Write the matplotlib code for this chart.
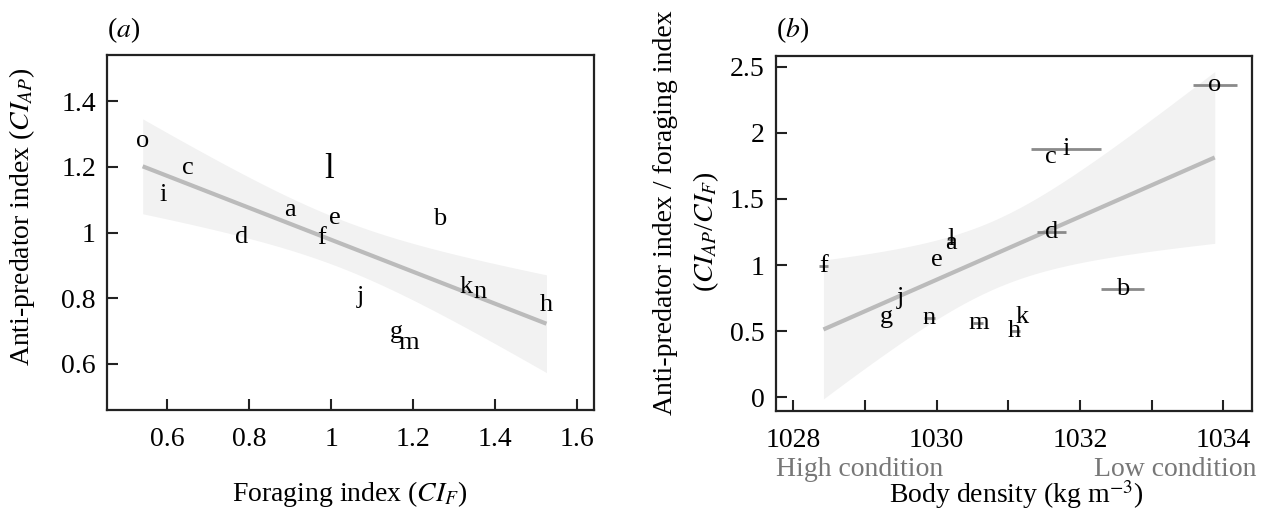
import numpy as np
import matplotlib
matplotlib.use("Agg")
import matplotlib.pyplot as plt
from matplotlib.ticker import FixedLocator

plt.rcParams['font.family'] = ['Liberation Serif', 'DejaVu Serif']
plt.rcParams['mathtext.fontset'] = 'stix'

# ---------------- data ----------------
labels = ['a', 'b', 'c', 'd', 'e', 'f', 'g', 'h', 'i', 'j', 'k', 'l', 'm', 'n', 'o']

# panel (a): foraging index vs anti-predator index
ci_f = [0.899, 1.265, 0.651, 0.782, 1.009, 0.977, 1.158, 1.525, 0.589, 1.072, 1.330, 0.995, 1.188, 1.363, 0.540]
ci_ap = [1.068, 1.040, 1.195, 0.987, 1.043, 0.982, 0.698, 0.779, 1.114, 0.804, 0.835, 1.192, 0.664, 0.820, 1.278]

# panel (b): body density vs ratio
density = [1030.20, 1032.60, 1031.60, 1031.60, 1030.00, 1028.42, 1029.30, 1031.09, 1031.80, 1029.49, 1031.19, 1030.20, 1030.58, 1029.90, 1033.88]
density_err = [0.06, 0.30, 0.00, 0.20, 0.00, 0.06, 0.00, 0.07, 0.49, 0.00, 0.00, 0.06, 0.07, 0.07, 0.31]
ratio = [1.17, 0.82, 1.82, 1.25, 1.04, 0.99, 0.61, 0.50, 1.88, 0.75, 0.61, 1.20, 0.56, 0.60, 2.36]

W, H = 1270, 518
fig = plt.figure(figsize=(W / 100, H / 100), dpi=100)

def px_axes(l, t, r, b):
    return fig.add_axes([l / W, 1 - b / H, (r - l) / W, (b - t) / H])

def ols_band(x, y, grid):
    x = np.asarray(x, float); y = np.asarray(y, float)
    n = len(x)
    slope, inter = np.polyfit(x, y, 1)
    res = y - (inter + slope * x)
    s = np.sqrt(np.sum(res ** 2) / (n - 2))
    sxx = np.sum((x - x.mean()) ** 2)
    t = 2.160  # t(0.975, 13)
    fit = inter + slope * grid
    hw = t * s * np.sqrt(1 / n + (grid - x.mean()) ** 2 / sxx)
    return fit, fit - hw, fit + hw

band_col = '#f2f2f2'
line_col = '#bbbbbb'
txt_fs = 19
lab_fs = 20

def style_axes(ax):
    for sp in ax.spines.values():
        sp.set_linewidth(1.6)
        sp.set_color('#222222')
    ax.tick_params(which='both', direction='in', length=8, width=1.5, labelsize=lab_fs, color='#222222')
    ax.tick_params(axis='x', which='both', pad=12)
    ax.tick_params(axis='y', pad=8)

# ---------------- panel (a) ----------------
axa = px_axes(107, 55, 594, 410)
ga = np.linspace(min(ci_f), max(ci_f), 200)
fa, loa, hia = ols_band(ci_f, ci_ap, ga)
axa.fill_between(ga, loa, hia, color=band_col, lw=0, zorder=0)
axa.plot(ga, fa, color=line_col, lw=3, zorder=1, solid_capstyle='butt')
for lab, x, y in zip(labels, ci_f, ci_ap):
    axa.text(x, y, lab, fontsize=25 if lab == 'l' else txt_fs, ha='center', va='center', zorder=3)
axa.set_xlim(0.453, 1.641)
axa.set_ylim(0.46, 1.54)
axa.xaxis.set_major_locator(FixedLocator([0.6, 0.8, 1.0, 1.2, 1.4, 1.6]))
axa.yaxis.set_major_locator(FixedLocator([0.6, 0.8, 1.0, 1.2, 1.4]))
axa.set_xticklabels(['0.6', '0.8', '1', '1.2', '1.4', '1.6'])
axa.set_yticklabels(['0.6', '0.8', '1', '1.2', '1.4'])
style_axes(axa)

fig.text(107 / W, 1 - 30 / H, r'($\it{a}$)', fontsize=lab_fs, ha='left', va='center')
fig.text(350 / W, 1 - 494 / H, r'Foraging index ($CI_F$)', fontsize=lab_fs, ha='center', va='center')
fig.text(22 / W, 1 - 217 / H, r'Anti-predator index ($CI_{AP}$)', fontsize=lab_fs,
         ha='center', va='center', rotation=90)

# ---------------- panel (b) ----------------
axb = px_axes(775.7, 56, 1252, 411)
gb = np.linspace(min(density), max(density), 200)
fb, lob, hib = ols_band(density, ratio, gb)
axb.fill_between(gb, lob, hib, color=band_col, lw=0, zorder=0)
axb.plot(gb, fb, color=line_col, lw=3, zorder=1, solid_capstyle='butt')
for x, y, e in zip(density, ratio, density_err):
    if e > 0:
        axb.errorbar([x], [y], xerr=[e], fmt='none', ecolor='#8a8a8a', elinewidth=2, capsize=0, zorder=2)
for lab, x, y in zip(labels, density, ratio):
    axb.text(x, y, lab, fontsize=txt_fs, ha='center', va='center', zorder=3)
axb.set_xlim(1027.754, 1034.40)
axb.set_ylim(-0.104, 2.581)
axb.xaxis.set_major_locator(FixedLocator([1028, 1030, 1032, 1034]))
axb.xaxis.set_minor_locator(FixedLocator([1029, 1031, 1033]))
axb.yaxis.set_major_locator(FixedLocator([0, 0.5, 1, 1.5, 2, 2.5]))
axb.set_xticklabels(['1028', '1030', '1032', '1034'])
axb.set_yticklabels(['0', '0.5', '1', '1.5', '2', '2.5'])
style_axes(axb)

fig.text(775.7 / W, 1 - 30 / H, r'($\it{b}$)', fontsize=lab_fs, ha='left', va='center')
fig.text(776 / W, 1 - 470 / H, 'High condition', fontsize=lab_fs, color='#777777', ha='left', va='center')
fig.text(1256 / W, 1 - 470 / H, 'Low condition', fontsize=lab_fs, color='#777777', ha='right', va='center')
fig.text(1016 / W, 1 - 495 / H, r'Body density (kg m$^{-3}$)', fontsize=lab_fs, ha='center', va='center')
fig.text(665 / W, 1 - 213 / H, 'Anti-predator index / foraging index', fontsize=lab_fs,
         ha='center', va='center', rotation=90)
fig.text(706 / W, 1 - 232 / H, r'($CI_{AP}$/$CI_F$)', fontsize=lab_fs,
         ha='center', va='center', rotation=90)

fig.savefig('out.png', dpi=100)
